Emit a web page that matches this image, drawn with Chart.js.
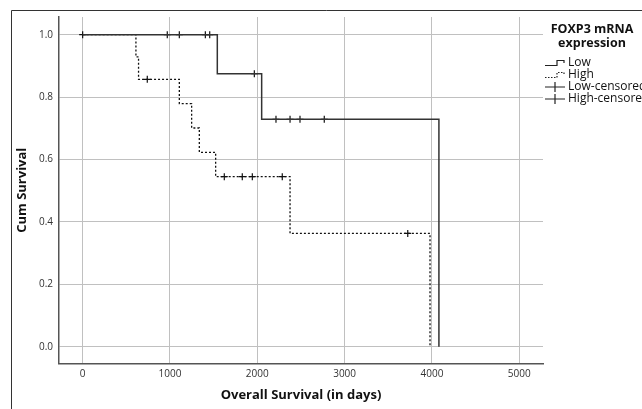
<!DOCTYPE html>
<html>
<head>
<meta charset="utf-8">
<script src="https://cdn.jsdelivr.net/npm/chart.js@4.4.1/dist/chart.umd.min.js"></script>
<style>
  html, body { margin: 0; padding: 0; background: #fff; }
  canvas { display: block; }
</style>
</head>
<body>
<canvas id="c" width="642" height="409"></canvas>
<script>
// ---- Data ----
const lowTimes   = [0, 1542, 2050, 4080];
const lowSurv    = [1.0, 0.875, 0.729, 0.0];
const highTimes  = [0, 610, 640, 1107, 1248, 1336, 1523, 2375, 3978];
const highSurv   = [1.0, 0.929, 0.857, 0.779, 0.701, 0.623, 0.545, 0.363, 0.0];
const lowCensTimes  = [0, 969, 1107, 1405, 1455, 1966, 2214, 2375, 2489, 2767];
const lowCensSurv   = [1.0, 1.0, 1.0, 1.0, 1.0, 0.875, 0.729, 0.729, 0.729, 0.729];
const highCensTimes = [740, 1622, 1828, 1943, 2286, 3723];
const highCensSurv  = [0.857, 0.545, 0.545, 0.545, 0.545, 0.363];
const xTicks = [0, 1000, 2000, 3000, 4000, 5000];
const yTicks = [0.0, 0.2, 0.4, 0.6, 0.8, 1.0];
const legendTitle = ['FOXP3 mRNA', 'expression'];
const legendLabels = ['Low', 'High', 'Low-censored', 'High-censored'];

const toPts = (xs, ys) => xs.map((x, i) => ({ x: x, y: ys[i] }));
const FONT = "'Open Sans', 'DejaVu Sans', sans-serif";

const framePlugin = {
  id: 'frame',
  beforeDraw(chart) {
    const ctx = chart.ctx;
    ctx.save();
    ctx.fillStyle = '#fff';
    ctx.fillRect(0, 0, chart.width, chart.height);
    ctx.strokeStyle = '#333';
    ctx.lineWidth = 1;
    ctx.beginPath();
    ctx.moveTo(11.5, chart.height);
    ctx.lineTo(11.5, 10.5);
    ctx.lineTo(chart.width, 10.5);
    ctx.stroke();
    ctx.restore();
  }
};

const legendPlugin = {
  id: 'kmLegend',
  afterDraw(chart) {
    const ctx = chart.ctx;
    ctx.save();
    ctx.fillStyle = '#111';
    ctx.textAlign = 'center';
    ctx.textBaseline = 'middle';
    ctx.font = "bold 12.5px " + FONT;
    ctx.fillText(legendTitle[0], 592, 29);
    ctx.fillText(legendTitle[1], 592, 43);
    const ys = [63, 75, 87, 99];
    ctx.font = "12px " + FONT;
    ctx.textAlign = 'left';
    legendLabels.forEach((t, i) => ctx.fillText(t, 568, ys[i]));
    ctx.strokeStyle = '#222';
    ctx.lineWidth = 1.2;
    const step = (y0) => {
      ctx.beginPath();
      ctx.moveTo(545, y0 + 2.5);
      ctx.lineTo(557, y0 + 2.5);
      ctx.lineTo(557, y0 - 2.5);
      ctx.lineTo(564, y0 - 2.5);
      ctx.lineTo(564, y0);
      ctx.stroke();
    };
    ctx.setLineDash([]);
    step(ys[0]);
    ctx.setLineDash([1.5, 1.5]);
    step(ys[1]);
    ctx.setLineDash([]);
    [ys[2], ys[3]].forEach(y => {
      ctx.beginPath();
      ctx.moveTo(545, y);
      ctx.lineTo(565, y);
      ctx.moveTo(555, y - 5);
      ctx.lineTo(555, y + 5);
      ctx.stroke();
    });
    ctx.restore();
  }
};

new Chart(document.getElementById('c'), {
  type: 'line',
  data: {
    datasets: [
      {
        label: legendLabels[0],
        data: toPts(lowTimes, lowSurv),
        stepped: 'before',
        borderColor: '#333',
        borderWidth: 1.5,
        pointRadius: 0,
        fill: false
      },
      {
        label: legendLabels[1],
        data: toPts(highTimes, highSurv),
        stepped: 'before',
        borderColor: '#111',
        borderWidth: 1.3,
        borderDash: [2, 2],
        pointRadius: 0,
        fill: false
      },
      {
        type: 'scatter',
        label: legendLabels[2],
        data: toPts(lowCensTimes, lowCensSurv),
        showLine: false,
        pointStyle: 'cross',
        pointRadius: 3.5,
        pointBorderWidth: 1.2,
        pointBorderColor: '#111',
        borderColor: '#111'
      },
      {
        type: 'scatter',
        label: legendLabels[3],
        data: toPts(highCensTimes, highCensSurv),
        showLine: false,
        pointStyle: 'cross',
        pointRadius: 3.5,
        pointBorderWidth: 1.2,
        pointBorderColor: '#111',
        borderColor: '#111'
      }
    ]
  },
  options: {
    responsive: false,
    animation: false,
    events: [],
    layout: { padding: { left: 0, top: 17, right: 99, bottom: 0 } },
    plugins: { legend: { display: false }, tooltip: { enabled: false } },
    scales: {
      x: {
        type: 'linear',
        min: -271,
        max: 5272,
        afterBuildTicks: s => { s.ticks = xTicks.map(v => ({ value: v })); },
        afterFit: s => { s.height = 45.5; },
        grid: { color: '#c0c0c0', lineWidth: 1, drawTicks: false },
        border: { display: true, color: '#555', width: 1.5 },
        ticks: {
          padding: 5,
          color: '#333',
          font: { family: FONT, size: 10 },
          callback: v => String(v),
          maxRotation: 0,
          autoSkip: false
        },
        title: {
          display: true,
          text: 'Overall Survival (in days)',
          color: '#111',
          font: { family: FONT, size: 13, weight: 'bold' },
          padding: { top: 0, bottom: 6 }
        }
      },
      y: {
        type: 'linear',
        min: -0.0538,
        max: 1.0567,
        afterBuildTicks: s => { s.ticks = yTicks.map(v => ({ value: v })); },
        afterFit: s => { s.width = 59; },
        grid: { color: '#c0c0c0', lineWidth: 1, drawTicks: false },
        border: { display: true, color: '#555', width: 1.5 },
        ticks: {
          padding: 6,
          color: '#333',
          font: { family: FONT, size: 10 },
          callback: v => Number(v).toFixed(1),
          autoSkip: false
        },
        title: {
          display: true,
          text: 'Cum Survival',
          color: '#111',
          font: { family: FONT, size: 13, weight: 'bold' },
          padding: { top: 14, bottom: 0 }
        }
      }
    }
  },
  plugins: [framePlugin, legendPlugin]
});
</script>
</body>
</html>
